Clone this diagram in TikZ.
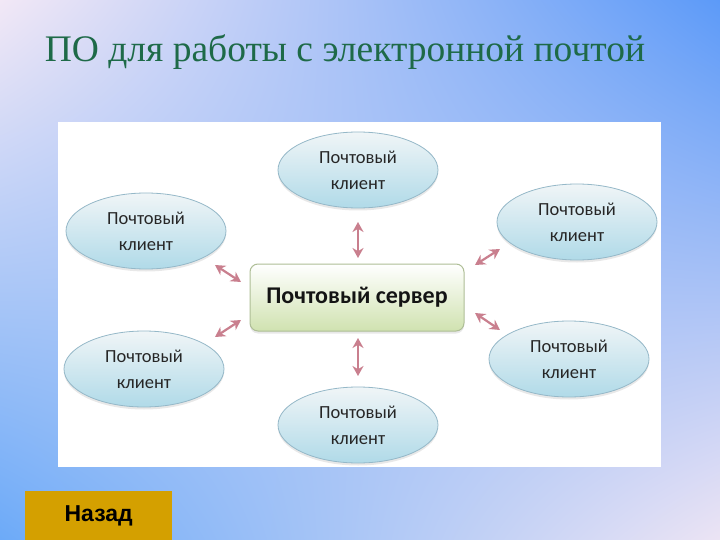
\documentclass[tikz,border=0pt]{standalone}
\usepackage{fontspec}
\setmainfont{Liberation Serif}
\newfontfamily\clientfont{Carlito}
\newfontfamily\btnfont{Liberation Sans}
\usetikzlibrary{shapes.geometric,arrows.meta,shadings,shadows}
\definecolor{titlegreen}{HTML}{1E6A48}
\definecolor{ellborder}{HTML}{95B8C8}
\definecolor{elltop}{HTML}{F0F5F7}
\definecolor{ellbot}{HTML}{B0DAE8}
\definecolor{srvborder}{HTML}{AEBE96}
\definecolor{srvbot}{HTML}{D0E2B0}
\definecolor{arrowpink}{HTML}{C97F8E}
\definecolor{btngold}{HTML}{D4A000}
\definecolor{bgpink}{HTML}{F2E8F6}
\definecolor{bgblue}{HTML}{5C9AF8}
\definecolor{bgblue2}{HTML}{6CAAF8}
\definecolor{bgpink2}{HTML}{ECE4F4}
\tikzset{
  client/.style={ellipse, draw=ellborder, line width=0.8pt, top color=elltop, bottom color=ellbot,
    minimum width=160pt, minimum height=76pt, inner sep=0pt, align=center,
    drop shadow={opacity=0.18, shadow xshift=0pt, shadow yshift=-2.5pt},
    font=\clientfont\fontsize{18.5}{26}\selectfont, text=black!85},
  server/.style={rectangle, rounded corners=8pt, draw=srvborder, line width=1pt, top color=white, bottom color=srvbot,
    drop shadow={opacity=0.18, shadow xshift=0pt, shadow yshift=-2.5pt},
    minimum width=214pt, minimum height=67pt, font=\clientfont\bfseries\fontsize{24}{26}\selectfont, text=black!92},
  link/.style={arrowpink, line width=2.2pt, {Stealth[length=10pt,width=11pt]}-{Stealth[length=10pt,width=11pt]}}
}
\begin{document}
\begin{tikzpicture}[x=1pt,y=-1pt]
\useasboundingbox (0,0) rectangle (720,540);
\shade[upper left=bgpink, upper right=bgblue, lower left=bgblue2, lower right=bgpink2] (0,0) rectangle (720,540);
\node[text=titlegreen, font=\fontsize{37.5}{40}\selectfont, anchor=base] (title) at (345,62) {ПО для работы с электронной почтой};
\fill[white] (58,122) rectangle (661,467);
\node[client] (top) at (358,170) {Почтовый\\клиент};
\node[client] (ul) at (146,231) {Почтовый\\клиент};
\node[client] (ur) at (577,222) {Почтовый\\клиент};
\node[client] (ll) at (144,369) {Почтовый\\клиент};
\node[client] (lr) at (569,359) {Почтовый\\клиент};
\node[client] (bot) at (358,425) {Почтовый\\клиент};
\node[server] (srv) at (357,297.5) {Почтовый сервер};
\coordinate (t1) at (358,222); \coordinate (t2) at (358,258);
\coordinate (b1) at (358,338); \coordinate (b2) at (358,376);
\coordinate (ul1) at (215,265); \coordinate (ul2) at (241,282);
\coordinate (ll1) at (215,337); \coordinate (ll2) at (241,320);
\coordinate (ur1) at (475,265); \coordinate (ur2) at (500,249);
\coordinate (lr1) at (475,313); \coordinate (lr2) at (500,330);
\draw[link] (t1) -- (t2);
\draw[link] (b1) -- (b2);
\draw[link] (ul1) -- (ul2);
\draw[link] (ll1) -- (ll2);
\draw[link] (ur1) -- (ur2);
\draw[link] (lr1) -- (lr2);
\node[fill=btngold, minimum width=147pt, minimum height=49pt, inner sep=0pt, anchor=north west,
  font=\btnfont\bfseries\fontsize{23}{24}\selectfont] (back) at (25,491) {Назад};
\end{tikzpicture}
\end{document}
